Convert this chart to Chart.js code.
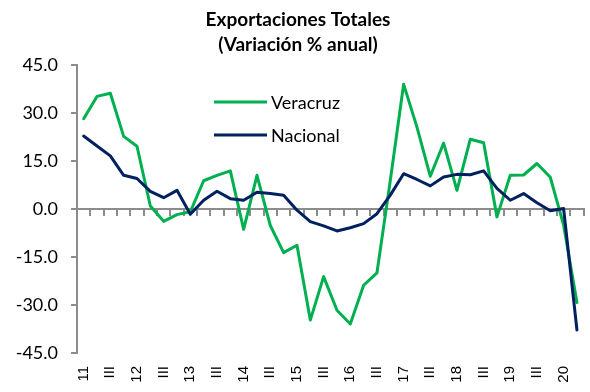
<!DOCTYPE html>
<html lang="es">
  <head>
    <meta charset="UTF-8" />
    <title>Exportaciones Totales</title>
    <script src="https://cdn.jsdelivr.net/npm/chart.js@4.4.1/dist/chart.umd.min.js"></script>
    <style>
      html,
      body {
        margin: 0;
        padding: 0;
        background: #fff;
        overflow: hidden;
      }
    </style>
  </head>
  <body>
    <canvas id="chart" width="600" height="392"></canvas>
    <script>
      // trimestres 2011-I a 2020-II
      const quarters = [
        "11", "II", "III", "IV", "12", "II", "III", "IV",
        "13", "II", "III", "IV", "14", "II", "III", "IV",
        "15", "II", "III", "IV", "16", "II", "III", "IV",
        "17", "II", "III", "IV", "18", "II", "III", "IV",
        "19", "II", "III", "IV", "20", "II"
      ];

      const veracruz = [
        28.3, 35.3, 36.3, 22.8, 19.7, 1.0, -3.8, -1.7,
        -0.8, 8.9, 10.6, 12.0, -6.3, 10.6, -5.1, -13.6,
        -11.3, -34.7, -21.1, -31.6, -35.9, -23.8, -19.9, 9.0,
        39.1, 25.7, 10.3, 20.7, 5.9, 21.9, 20.8, -2.4,
        10.6, 10.7, 14.3, 10.0, -5.0, -29.2
      ];

      const nacional = [
        22.9, 19.8, 16.7, 10.6, 9.6, 5.6, 3.6, 5.9,
        -1.6, 2.8, 5.6, 3.3, 2.8, 5.3, 4.9, 4.4,
        -0.3, -3.9, -5.2, -6.8, -5.8, -4.5, -1.4, 4.4,
        11.1, 9.3, 7.3, 10.1, 10.9, 10.8, 12.0, 6.5,
        2.8, 4.9, 2.0, -0.5, 0.2, -37.8
      ];

      const yTicks = [-45, -30, -15, 0, 15, 30, 45];

      const axisGray = "#8c8c8c";

      // leyenda dentro del área de la gráfica
      const innerLegend = {
        id: "innerLegend",
        afterDraw(chart) {
          const ctx = chart.ctx;
          const items = [0, 1].map((i) => chart.data.datasets[i]);
          ctx.save();
          ctx.font = "18px Lato";
          ctx.textBaseline = "middle";
          ctx.fillStyle = "#000";
          items.forEach((ds, i) => {
            const y = 102 + i * 33;
            ctx.strokeStyle = ds.borderColor;
            ctx.lineWidth = 3;
            ctx.beginPath();
            ctx.moveTo(214, y);
            ctx.lineTo(267, y);
            ctx.stroke();
            ctx.fillText(ds.label, 271, y + 1);
          });
          ctx.restore();
        }
      };

      new Chart(document.getElementById("chart"), {
        type: "line",
        data: {
          labels: quarters,
          datasets: [
            {
              label: "Veracruz",
              data: veracruz,
              borderColor: "#00b050",
              borderWidth: 3,
              order: 1,
              xAxisID: "x"
            },
            {
              label: "Nacional",
              data: nacional,
              borderColor: "#002060",
              borderWidth: 3,
              order: 0,
              xAxisID: "x"
            }
          ]
        },
        options: {
          responsive: false,
          animation: false,
          layout: { padding: { top: 0, right: 4, bottom: 0, left: 0 } },
          elements: {
            point: { radius: 0 },
            line: { tension: 0, borderJoinStyle: "round", borderCapStyle: "round" }
          },
          plugins: {
            legend: { display: false },
            tooltip: { enabled: false },
            title: {
              display: true,
              text: ["Exportaciones Totales", "(Variación % anual)"],
              color: "#000",
              font: { family: "Lato", size: 19, weight: "bold", lineHeight: 1.3 },
              padding: { top: 8, bottom: 8 }
            }
          },
          scales: {
            // eje que cruza en cero, sólo línea y marcas
            x: {
              type: "category",
              position: { y: 0 },
              offset: true,
              grid: {
                offset: true,
                drawOnChartArea: false,
                tickLength: 6,
                color: axisGray,
                lineWidth: 2
              },
              border: { color: axisGray, width: 2 },
              ticks: { display: false }
            },
            // etiquetas de trimestre abajo
            x2: {
              type: "category",
              position: "bottom",
              offset: true,
              grid: { display: false },
              border: { display: false },
              ticks: {
                autoSkip: false,
                minRotation: 90,
                maxRotation: 90,
                padding: 5,
                color: "#000",
                font: { family: "Liberation Sans", size: 15 },
                callback: function (v, i) {
                  return i % 2 === 0 ? this.getLabelForValue(v) : "";
                }
              },
              afterFit(scale) {
                scale.height = 39;
              }
            },
            y: {
              position: "left",
              min: yTicks[0],
              max: yTicks[yTicks.length - 1],
              afterBuildTicks(scale) {
                scale.ticks = yTicks.map((v) => ({ value: v }));
              },
              grid: {
                drawOnChartArea: false,
                tickLength: 6,
                color: axisGray,
                lineWidth: 2
              },
              border: { color: axisGray, width: 2 },
              ticks: {
                padding: 13,
                color: "#000",
                font: { family: "Lato", size: 18 },
                callback: (v) => v.toFixed(1)
              },
              afterFit(scale) {
                scale.width = 77;
              }
            }
          }
        },
        plugins: [innerLegend]
      });
    </script>
  </body>
</html>
